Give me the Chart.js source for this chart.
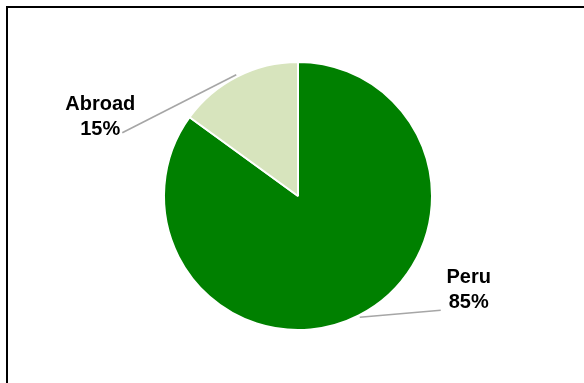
<!DOCTYPE html>
<html>
<head>
<meta charset="utf-8">
<script src="https://cdn.jsdelivr.net/npm/chart.js@4"></script>
<style>
  body { margin: 0; background: #fff; overflow: hidden; }
  #wrap { position: relative; width: 584px; height: 383px; }
  #frame { position: absolute; left: 6px; top: 6px; width: 620px; height: 420px; border: 2px solid #000; }
  canvas { position: absolute; left: 0; top: 0; }
</style>
</head>
<body>
<div id="wrap">
  <div id="frame"></div>
  <canvas id="pie" width="584" height="383"></canvas>
</div>
<script>
// data
const categories = ["Peru", "Abroad"];
const shares = [85, 15];
const sliceColors = ["#008000", "#D7E4BD"];

// where each label sits, relative to the middle of its slice's outer edge
const labelOffsets = [
    { line: [81, -7], text: [109, -40] },
    { line: [-114, 58], text: [-136, 30] }
];

const leaderLabels = {
    id: 'leaderLabels',
    afterDraw(chart) {
        const ctx = chart.ctx;
        const arcs = chart.getDatasetMeta(0).data;
        arcs.forEach((arc, i) => {
            const mid = (arc.startAngle + arc.endAngle) / 2;
            const ex = arc.x + Math.cos(mid) * (arc.outerRadius + 2);
            const ey = arc.y + Math.sin(mid) * (arc.outerRadius + 2);
            const off = labelOffsets[i];

            ctx.save();
            ctx.strokeStyle = '#a6a6a6';
            ctx.lineWidth = 1.6;
            ctx.beginPath();
            ctx.moveTo(ex, ey);
            ctx.lineTo(ex + off.line[0], ey + off.line[1]);
            ctx.stroke();

            ctx.fillStyle = '#000';
            ctx.font = 'bold 20px "Liberation Sans", Arial, sans-serif';
            ctx.textAlign = 'center';
            ctx.textBaseline = 'middle';
            const tx = ex + off.text[0];
            const ty = ey + off.text[1];
            ctx.fillText(categories[i], tx, ty);
            ctx.fillText(shares[i] + '%', tx, ty + 25);
            ctx.restore();
        });
    }
};

new Chart(document.getElementById('pie'), {
    type: 'pie',
    data: {
        labels: categories,
        datasets: [{
            data: shares,
            backgroundColor: sliceColors,
            borderColor: '#fff',
            borderWidth: 2
        }]
    },
    options: {
        responsive: false,
        animation: false,
        layout: { padding: { left: 163, right: 151, top: 61, bottom: 52 } },
        plugins: {
            legend: { display: false },
            tooltip: { enabled: false }
        }
    },
    plugins: [leaderLabels]
});
</script>
</body>
</html>
